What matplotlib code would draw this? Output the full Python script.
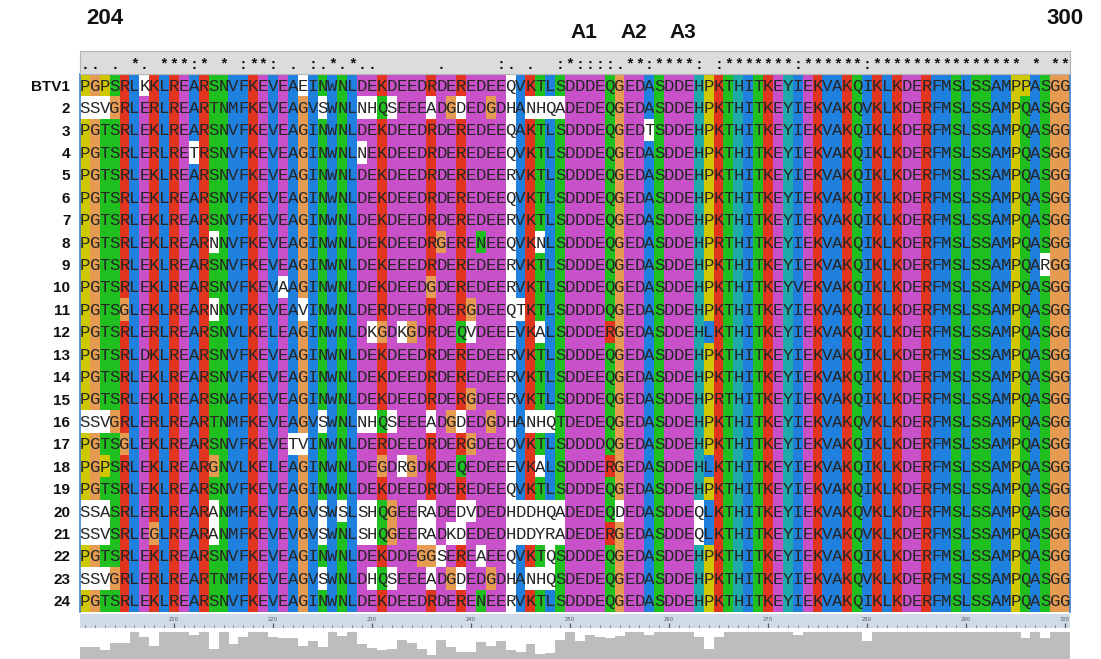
import numpy as np
import matplotlib
matplotlib.use("Agg")
import matplotlib.pyplot as plt
from matplotlib import transforms

W, H = 1101, 659

# ---------------------------------------------------------------- data
row_labels = ["BTV1"] + [str(n) for n in range(2, 25)]

sequences = [
    "PGPSRLKKLREARSNVFKEVEAEINWNLDEKDEEDRDEREDEEQVKTLS" + "DDDEQ" + "GEDASDDEHPKTHITKEYIEKVAKQIKLKDERFMSLSSAMPPASGG",
    "SSVGRLERLREARTNMFKEVEAGVSWNLNHQSEEEADGDEDGDHANHQA" + "DEDEQ" + "GEDASDDEHPKTHITKEYIEKVAKQVKLKDERFMSLSSAMPQASGG",
    "PGTSRLEKLREARSNVFKEVEAGINWNLDEKDEEDRDEREDEEQAKTLS" + "DDDEQ" + "GEDTSDDEHPKTHITKEYIEKVAKQIKLKDERFMSLSSAMPQASGG",
    "PGTSRLERLRETRSNVFKEVEAGINWNLNEKDEEDRDEREDEEQVKTLS" + "DDDEQ" + "GEDASDDEHPKTHITKEYIEKVAKQIKLKDERFMSLSSAMPQASGG",
    "PGTSRLEKLREARSNVFKEVEAGINWNLDEKDEEDRDEREDEERVKTLS" + "DDDEQ" + "GEDASDDEHPKTHITKEYIEKVAKQIKLKDERFMSLSSAMPQASGG",
    "PGTSRLEKLREARSNVFKEVEAGINWNLDEKDEEDRDEREDEEQVKTLS" + "DDDEQ" + "GEDASDDEHPKTHITKEYIEKVAKQIKLKDERFMSLSSAMPQASGG",
    "PGTSRLEKLREARSNVFKEVEAGINWNLDEKDEEDRDEREDEERVKTLS" + "DDDEQ" + "GEDASDDEHPKTHITKEYIEKVAKQIKLKDERFMSLSSAMPQASGG",
    "PGTSRLEKLREARNNVFKEVEAGINWNLDEKDEEDRGERENEEQVKNLS" + "DDDEQ" + "GEDASDDEHPRTHITKEYIEKVAKQIKLKDERFMSLSSAMPQASGG",
    "PGTSRLEKLREARSNVFKEVEAGINWNLDEKEEEDRDEREDEERVKTLS" + "DDDEQ" + "GEDASDDEHPKTHITKEYIEKVAKQIKLKDERFMSLSSAMPQARGG",
    "PGTSRLEKLREARSNVFKEVAAGINWNLDEKDEEDGDEREDEERVKTLS" + "DDDEQ" + "GEDASDDEHPKTHITKEYVEKVAKQIKLKDERFMSLSSAMPQASGG",
    "PGTSGLEKLREARNNVFKEVEAVINWNLDERDEEDRDERGDEEQTKTLS" + "DDDDQ" + "GEDASDDEHPKTHITKEYIEKVAKQIKLKDERFMSLSSAMPQASGG",
    "PGTSRLERLREARSNVLKELEAGINWNLDKGDKGDRDEQVDEEEVKALS" + "DDDER" + "GEDASDDEHLKTHITKEYIEKVAKQIKLKDERFMSLSSAMPQASGG",
    "PGTSRLDKLREARSNVFKEVEAGINWNLDEKDEEDRDEREDEERVKTLS" + "DDDEQ" + "GEDASDDEHPKTHITKEYIEKVAKQIKLKDERFMSLSSAMPQASGG",
    "PGTSRLEKLREARSNVFKEVEAGINWNLDEKDEEDRDEREDEERVKTLS" + "DDEEQ" + "GEDASDDEHPKTHITKEYIEKVAKQIKLKDERFMSLSSAMPQASGG",
    "PGTSRLEKLREARSNAFKEVEAGINWNLDEKDEEDRDERGDEERVKTLS" + "DDDEQ" + "GEDASDDEHPRTHITKEYIEKVAKQIKLKDERFMSLSSAMPQASGG",
    "SSVGRLERLREARTNMFKEVEAGVSWNLNHQSEEEADGDEDGDHANHQT" + "DEDEQ" + "GEDASDDEHPKTHITKEYIEKVAKQVKLKDERFMSLSSAMPQASGG",
    "PGTSGLEKLREARSNVFKEVETVINWNLDERDEEDRDERGDEEQVKTLS" + "DDDDQ" + "GEDASDDEHPKTHITKEYIEKVAKQIKLKDERFMSLSSAMPQASGG",
    "PGPSRLEKLREARGNVLKELEAGINWNLDEGDRGDKDEQEDEEEVKALS" + "DDDER" + "GEDASDDEHLKTHITKEYIEKVAKQIKLKDERFMSLSSAMPQASGG",
    "PGTSRLEKLREARSNVFKEVEAGINWNLDEKDEEDRDEREDEEQVKTLS" + "DDDEQ" + "GEDASDDEHPKTHITKEYIEKVAKQIKLKDERFMSLSSAMPQASGG",
    "SSASRLERLREARANMFKEVEAGVSWSLSHQGEERADEDVDEDHDDHQA" + "DEDEQ" + "DEDASDDEQLKTHITKEYIEKVAKQVKLKDERFMSLSSAMPQASGG",
    "SSVSRLEGLREARANMFKEVEVGVSWNLSHQGEERADKDEDEDHDDYRA" + "DEDER" + "GEDASDDEQLKTHITKEYIEKVAKQVKLKDERFMSLSSAMPQASGG",
    "PGTSRLEKLREARSNVFKEVEAGINWNLDEKDDEGGSEREAEEQVKTQS" + "DDDEQ" + "GEDASDDEHPKTHITKEYIEKVAKQIKLKDERFMSLSSAMPQASGG",
    "SSVGRLERLREARTNMFKEVEAGVSWNLDHQSEEEADGDEDGDHANHQS" + "DEDEQ" + "GEDASDDEHPKTHITKEYIEKVAKQVKLKDERFMSLSSAMPQASGG",
    "PGTSRLEKLREARSNVFKEVEAGINWNLDEKDEEDRDERENEERVKTLS" + "DDDEQ" + "GEDASDDEHPKTHITKEYIEKVAKQIKLKDERFMSLSSAMPQASGG",
]

first_residue = 201
range_labels = ["204", "300"]
motif_labels = ["A1", "A2", "A3"]
motif_residues = [251, 256, 261]

n_rows = len(sequences)
n_cols = len(sequences[0])
assert all(len(s) == n_cols for s in sequences)
residues = np.arange(first_residue, first_residue + n_cols)
columns = ["".join(s[j] for s in sequences) for j in range(n_cols)]

# ---------------------------------------------------------------- Clustal X colouring
PALETTE = {
    "blue": "#2080de", "red": "#e2351f", "magenta": "#c850c8",
    "green": "#1fbf1f", "orange": "#e59b52", "yellow": "#cfc700",
    "cyan": "#1fa9a9", "pink": "#ef8080", "white": "#ffffff",
}
HYDRO = "WLVIMAFCYHP"
HYDRO_RULE = "%#ACFHILMVWYPp"
RULES = {
    "G": ("orange", None), "P": ("yellow", None),
    "T": ("green", "tST"), "S": ("green", "tST"),
    "N": ("green", "nND"), "Q": ("green", "qQE+KR"),
    "E": ("magenta", "-DEqQ"), "D": ("magenta", "-DEnN"),
    "K": ("red", "+KRQ"), "R": ("red", "+KRQ"),
    "H": ("cyan", HYDRO_RULE), "Y": ("cyan", HYDRO_RULE),
    "C": ("pink", "C"),
}
for aa in "AFILMVW":
    RULES[aa] = ("blue", HYDRO_RULE)


def column_flags(col):
    n = len(col)
    frac = lambda letters: sum(c in letters for c in col) / n
    flags = set()
    if frac(HYDRO) >= 0.6:
        flags.add("%")
    if frac(HYDRO) >= 0.8:
        flags.add("#")
    if frac("ED") >= 0.5:
        flags.add("-")
    if frac("KR") >= 0.6:
        flags.add("+")
    for key, letters in (("g", "G"), ("n", "N"), ("q", "QE"), ("p", "P"), ("t", "TS")):
        if frac(letters) >= 0.5:
            flags.add(key)
    for aa in set(col):
        if frac(aa) >= 0.85:
            flags.add(aa)
    return flags


def residue_colour(aa, flags):
    name, needs = RULES.get(aa, ("white", ""))
    if needs is None:
        return PALETTE[name]
    if any(tok in flags for tok in needs):
        return PALETTE[name]
    return PALETTE["white"]


rgb = np.ones((n_rows, n_cols, 3))
for j, col in enumerate(columns):
    flags = column_flags(col)
    for i, aa in enumerate(col):
        rgb[i, j] = matplotlib.colors.to_rgb(residue_colour(aa, flags))

# ---------------------------------------------------------------- conservation
STRONG = ["STA", "NEQK", "NHQK", "NDEQ", "QHRK", "MILV", "MILF", "HY", "FYW"]
WEAK = ["CSA", "ATV", "SAG", "STNK", "STPA", "SGND", "SNDEQK", "NDEQHK",
        "NEQHRK", "FVLIM", "HFY"]


def conservation_symbol(col):
    kinds = set(col)
    if len(kinds) == 1:
        return "*"
    if any(kinds <= set(g) for g in STRONG):
        return ":"
    if any(kinds <= set(g) for g in WEAK):
        return "."
    return " "


def pair_similarity(a, b):
    if a == b:
        return 1.0
    if any(a in g and b in g for g in STRONG):
        return 0.6
    if any(a in g and b in g for g in WEAK):
        return 0.3
    return 0.0


symbols = [conservation_symbol(c) for c in columns]
quality = []
for col in columns:
    total = sum(pair_similarity(a, b) for a in col for b in col)
    quality.append(total / len(col) ** 2)
quality = np.clip(np.array(quality) ** 3.0, 0.08, 1.0)

# ---------------------------------------------------------------- layout
fig = plt.figure(figsize=(W / 100, H / 100), dpi=100)
fig.patch.set_facecolor("white")


def px_axes(x0, y0, x1, y1):
    return fig.add_axes([x0 / W, 1 - y1 / H, (x1 - x0) / W, (y1 - y0) / H])


XL, XR = 80, 1070
xlim = (residues[0] - 0.5, residues[-1] + 0.5)

# alignment body
ax = px_axes(XL, 74, XR, 612)
ax.imshow(rgb, extent=(xlim[0], xlim[1], n_rows - 0.5, -0.5),
          aspect="auto", interpolation="nearest")
for i, seq in enumerate(sequences):
    for j, aa in enumerate(seq):
        ax.text(residues[j], i + 0.04, aa, ha="center", va="center",
                fontsize=12.5, family="Liberation Mono", color="#262626")
ax.set_xlim(*xlim)
ax.set_ylim(n_rows - 0.5, -0.5)
ax.set_xticks([])
ax.set_yticks(np.arange(n_rows))
ax.set_yticklabels(row_labels, fontsize=11, fontweight="bold",
                   family="Liberation Sans", color="#111111")
ax.tick_params(axis="y", length=0, pad=7)
for side in ("left", "right"):
    ax.spines[side].set_color("#3f82d4")
    ax.spines[side].set_linewidth(1.2)
for side in ("top", "bottom"):
    ax.spines[side].set_visible(False)

# conservation header
hx = px_axes(XL, 51, XR, 74)
hx.set_facecolor("#dcdcdc")
for r, s in zip(residues, symbols):
    if s != " ":
        hx.text(r, 0.4, s, ha="center", va="center", fontsize=10.5,
                family="Liberation Mono", fontweight="bold", color="#111111")
hx.set_xlim(*xlim)
hx.set_ylim(0, 1)
hx.set_xticks([])
hx.set_yticks([])
for side in hx.spines.values():
    side.set_color("#b4b4b4")

# residue ruler
rx = px_axes(XL, 614, XR, 628)
rx.set_facecolor("#cfdce8")
rx.vlines(residues, 0.0, 0.18, color="#6c7a88", lw=0.6)
tens = residues[residues % 10 == 0]
rx.vlines(tens, 0.0, 0.35, color="#4c5a68", lw=0.9)
for r in tens:
    rx.text(r, 0.62, str(r), ha="center", va="center", fontsize=3.8,
            color="#555555")
rx.set_xlim(*xlim)
rx.set_ylim(0, 1)
rx.set_xticks([])
rx.set_yticks([])
for side in rx.spines.values():
    side.set_visible(False)

# quality histogram
qx = px_axes(XL, 632, XR, 659)
qx.bar(residues, quality, width=1.0, color="#bdbdbd", edgecolor="none")
qx.set_xlim(*xlim)
qx.set_ylim(0, 1)
qx.axis("off")

# range and motif labels above the alignment
top = transforms.blended_transform_factory(ax.transData, fig.transFigure)
fig.text(residues[0] + 2.0, 1 - 18 / H, range_labels[0], transform=top,
         ha="center", va="center", fontsize=16, fontweight="bold",
         family="Liberation Sans", color="#111111")
fig.text(residues[-1], 1 - 18 / H, range_labels[1], transform=top,
         ha="center", va="center", fontsize=16, fontweight="bold",
         family="Liberation Sans", color="#111111")
for lab, r in zip(motif_labels, motif_residues):
    fig.text(r + 0.4, 1 - 32 / H, lab, transform=top, ha="center",
             va="center", fontsize=15, fontweight="bold",
             family="Liberation Sans", color="#111111")

fig.savefig("out.png", dpi=100, facecolor="white")
